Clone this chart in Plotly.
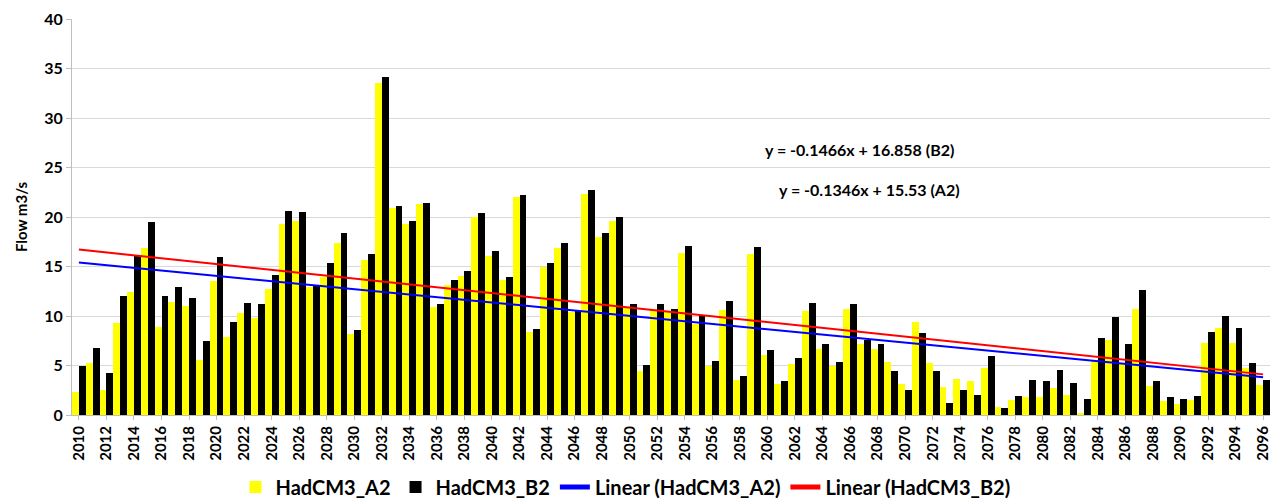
import plotly.graph_objects as go

# Annual flow projections, 2010-2096
years = list(range(2010, 2097))

had_a2 = [
    2.3, 5.3, 2.5, 9.3, 12.4, 16.9, 8.9, 11.4, 11.0, 5.6,
    13.5, 7.9, 10.3, 9.8, 12.7, 19.3, 19.6, 12.9, 13.9, 17.4,
    8.2, 15.7, 33.5, 20.9, 19.3, 21.3, 10.9, 13.1, 14.0, 20.0,
    16.1, 13.6, 22.0, 8.4, 15.0, 16.9, 10.4, 22.3, 18.0, 19.6,
    10.8, 4.4, 10.6, 10.4, 16.4, 9.2, 5.0, 10.6, 3.5, 16.3,
    6.1, 3.1, 5.2, 10.5, 6.7, 5.0, 10.7, 7.2, 6.7, 5.4,
    3.1, 9.4, 5.3, 2.8, 3.6, 3.4, 4.7, 0.8, 1.5, 1.8,
    1.8, 2.7, 2.0, 0.2, 5.6, 7.6, 5.2, 10.7, 2.9, 1.4,
    1.1, 1.5, 7.3, 8.8, 7.3, 4.7, 3.0,
]

had_b2 = [
    4.9, 6.8, 4.2, 12.0, 16.1, 19.5, 12.0, 12.9, 11.8, 7.5,
    16.0, 9.4, 11.3, 11.2, 14.1, 20.6, 20.5, 13.1, 15.4, 18.4,
    8.6, 16.3, 34.1, 21.1, 19.6, 21.4, 11.2, 13.6, 14.5, 20.4,
    16.6, 13.9, 22.2, 8.7, 15.4, 17.4, 10.6, 22.7, 18.4, 20.0,
    11.2, 5.1, 11.2, 10.7, 17.1, 10.1, 5.5, 11.5, 3.9, 17.0,
    6.6, 3.4, 5.8, 11.3, 7.2, 5.4, 11.2, 7.6, 7.2, 4.4,
    2.5, 8.3, 4.4, 1.2, 2.5, 2.0, 6.0, 0.7, 1.9, 3.5,
    3.4, 4.5, 3.2, 1.6, 7.8, 9.9, 7.2, 12.6, 3.4, 1.8,
    1.6, 1.9, 8.4, 10.0, 8.8, 5.3, 3.5,
]

# Linear trend coefficients (x = 1 for the first year)
trend_a2 = {"slope": -0.1346, "intercept": 15.53}
trend_b2 = {"slope": -0.1466, "intercept": 16.858}

y_ticks = [0, 5, 10, 15, 20, 25, 30, 35, 40]
x_ticks = list(range(2010, 2097, 2))

FONT = "Lato"

idx = list(range(1, len(years) + 1))
line_a2 = [trend_a2["slope"] * i + trend_a2["intercept"] for i in idx]
line_b2 = [trend_b2["slope"] * i + trend_b2["intercept"] for i in idx]

fig = go.Figure()
fig.add_trace(go.Bar(x=years, y=had_a2, name="HadCM3_A2",
                     marker=dict(color="#ffff00", line=dict(width=0))))
fig.add_trace(go.Bar(x=years, y=had_b2, name="HadCM3_B2",
                     marker=dict(color="#000000", line=dict(width=0))))
fig.add_trace(go.Scatter(x=years, y=line_a2, mode="lines",
                         name="Linear (HadCM3_A2)",
                         line=dict(color="#0000ff", width=2)))
fig.add_trace(go.Scatter(x=years, y=line_b2, mode="lines",
                         name="Linear (HadCM3_B2)",
                         line=dict(color="#ff0000", width=2)))

eq_b2 = "y = %.4fx + %.3f (B2)" % (trend_b2["slope"], trend_b2["intercept"])
eq_a2 = "y = %.4fx + %.2f (A2)" % (trend_a2["slope"], trend_a2["intercept"])

fig.add_annotation(text="<b>" + eq_b2 + "</b>", x=0.657, y=(415 - 149) / 396,
                   xref="paper", yref="paper", showarrow=False,
                   xanchor="center", yanchor="middle",
                   font=dict(family=FONT, size=16, color="#000000"))
fig.add_annotation(text="<b>" + eq_a2 + "</b>", x=0.666, y=(415 - 190) / 396,
                   xref="paper", yref="paper", showarrow=False,
                   xanchor="center", yanchor="middle",
                   font=dict(family=FONT, size=16, color="#000000"))

fig.update_layout(
    width=1272, height=500,
    margin=dict(l=72, r=2, t=19, b=85, autoexpand=False),
    paper_bgcolor="#ffffff", plot_bgcolor="#ffffff",
    barmode="group", bargap=0, bargroupgap=0,
    font=dict(family=FONT, color="#000000"),
    showlegend=True,
    legend=dict(orientation="h", x=0.462, xanchor="center",
                y=-0.182, yanchor="middle",
                font=dict(family=FONT, size=20, weight="bold"),
                itemwidth=30, tracegroupgap=0, itemsizing="constant"),
)

fig.update_xaxes(
    range=[2009.5, 2096.5], automargin=False,
    tickmode="array", tickvals=x_ticks, ticktext=[str(v) for v in x_ticks],
    tickangle=-90, tickfont=dict(family=FONT, size=15, weight="bold"),
    showgrid=False, showline=True, linecolor="#bfbfbf", linewidth=1,
    ticks="outside", ticklen=4, tickcolor="#bfbfbf",
    zeroline=False,
)
fig.update_yaxes(
    range=[0, 40], tickmode="array", tickvals=y_ticks, automargin=False,
    tickfont=dict(family=FONT, size=16, weight="bold"),
    showgrid=True, gridcolor="#d9d9d9", gridwidth=1,
    showline=True, linecolor="#bfbfbf", linewidth=1,
    ticks="outside", ticklen=5, tickcolor="#bfbfbf",
    zeroline=False,
    title=dict(text="Flow m3/s", font=dict(family=FONT, size=15, weight="bold"),
               standoff=12),
)

fig.write_html("out.html")
